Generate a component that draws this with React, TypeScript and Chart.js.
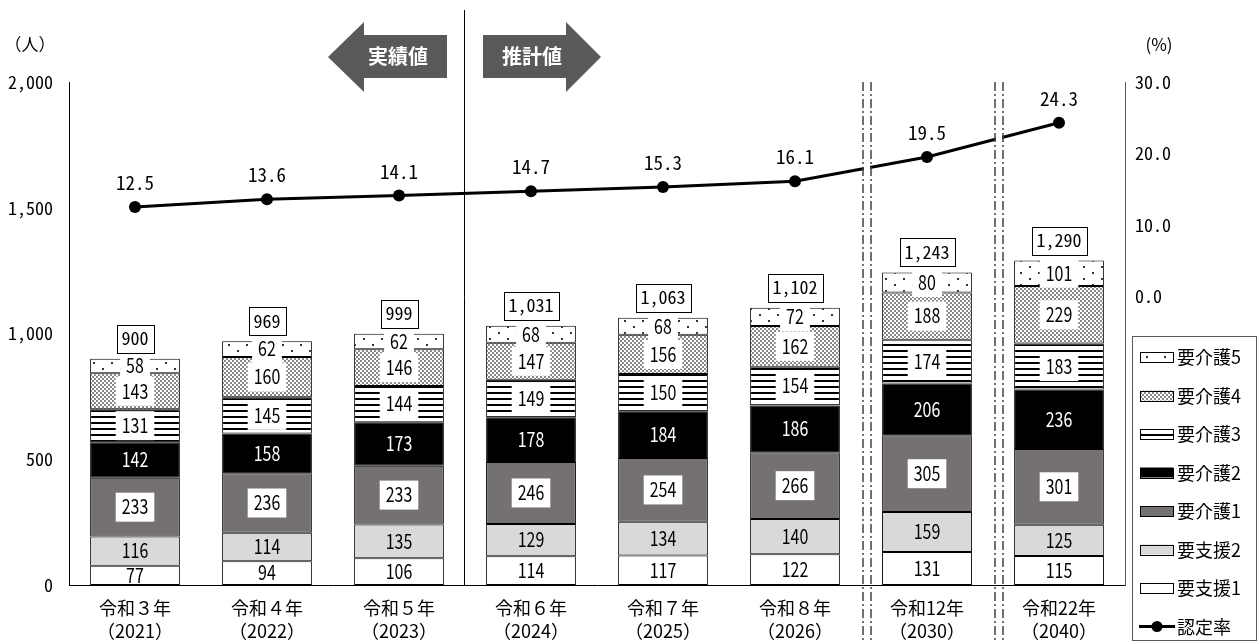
import React, { useEffect, useRef } from "react";
import { Chart, registerables } from "chart.js";
Chart.register(...registerables);

const categories = [
  ["令和３年", "（2021）"],
  ["令和４年", "（2022）"],
  ["令和５年", "（2023）"],
  ["令和６年", "（2024）"],
  ["令和７年", "（2025）"],
  ["令和８年", "（2026）"],
  ["令和12年", "（2030）"],
  ["令和22年", "（2040）"],
];
const shien1 = [77, 94, 106, 114, 117, 122, 131, 115];
const shien2 = [116, 114, 135, 129, 134, 140, 159, 125];
const kaigo1 = [233, 236, 233, 246, 254, 266, 305, 301];
const kaigo2 = [142, 158, 173, 178, 184, 186, 206, 236];
const kaigo3 = [131, 145, 144, 149, 150, 154, 174, 183];
const kaigo4 = [143, 160, 146, 147, 156, 162, 188, 229];
const kaigo5 = [58, 62, 62, 68, 68, 72, 80, 101];
const rate = [12.5, 13.6, 14.1, 14.7, 15.3, 16.1, 19.5, 24.3];
const leftTicks = [0, 500, 1000, 1500, 2000];
const rightTicks = [0, 10, 20, 30];

const JP = '"Noto Sans CJK JP", "Noto Sans", sans-serif';
const MONO = '"Noto Sans Mono CJK JP", "DejaVu Sans Mono", monospace';

function makePattern(kind: string): CanvasPattern | string {
  const c = document.createElement("canvas");
  const g = c.getContext("2d")!;
  if (kind === "sparse") {
    c.width = 18; c.height = 12;
    g.fillStyle = "#fff"; g.fillRect(0, 0, 18, 12);
    g.fillStyle = "#333";
    g.fillRect(3, 2, 2, 2);
    g.fillRect(12, 8, 2, 2);
  } else if (kind === "dense") {
    c.width = 4; c.height = 4;
    g.fillStyle = "#fff"; g.fillRect(0, 0, 4, 4);
    g.fillStyle = "#555";
    g.beginPath(); g.arc(1, 1, 0.95, 0, Math.PI * 2); g.fill();
    g.beginPath(); g.arc(3, 3, 0.95, 0, Math.PI * 2); g.fill();
  } else {
    c.width = 6; c.height = 6;
    g.fillStyle = "#fff"; g.fillRect(0, 0, 6, 6);
    g.fillStyle = "#000";
    g.fillRect(0, 2, 6, 2);
  }
  const p = g.createPattern(c, "repeat");
  return p || "#fff";
}

function drawCondensed(ctx: CanvasRenderingContext2D, text: string, x: number, y: number, sx: number) {
  ctx.save();
  ctx.translate(x, y);
  ctx.scale(sx, 1);
  ctx.textAlign = "center";
  ctx.fillText(text, 0, 0);
  ctx.restore();
}

const overlay = {
  id: "overlay",
  afterDraw(chart: any) {
    const ctx: CanvasRenderingContext2D = chart.ctx;
    const area = chart.chartArea;
    const xs = chart.scales.x;
    const ds = chart.data.datasets;
    ctx.save();

    // separators between 令和8/12 and 12/22
    const seps = [(xs.getPixelForValue(5) + xs.getPixelForValue(6)) / 2, (xs.getPixelForValue(6) + xs.getPixelForValue(7)) / 2];
    seps.forEach((m) => {
      ctx.fillStyle = "#fff";
      ctx.fillRect(m + 3, area.top, 6, area.bottom - area.top - 1);
      ctx.strokeStyle = "#444";
      ctx.lineWidth = 1.5;
      ctx.setLineDash([9, 3, 2, 3]);
      [m + 2, m + 10].forEach((lx) => {
        ctx.beginPath();
        ctx.moveTo(lx, area.top);
        ctx.lineTo(lx, chart.height);
        ctx.stroke();
      });
      ctx.setLineDash([]);
    });

    // divider 実績/推計
    const div = (xs.getPixelForValue(2) + xs.getPixelForValue(3)) / 2 - 1;
    ctx.strokeStyle = "#000";
    ctx.lineWidth = 1;
    ctx.beginPath();
    ctx.moveTo(div + 0.5, 10);
    ctx.lineTo(div + 0.5, area.bottom);
    ctx.stroke();

    // arrows
    ctx.fillStyle = "#595959";
    ctx.beginPath();
    ctx.moveTo(div - 136, 57);
    ctx.lineTo(div - 100, 22);
    ctx.lineTo(div - 100, 35);
    ctx.lineTo(div - 17, 35);
    ctx.lineTo(div - 17, 78);
    ctx.lineTo(div - 100, 78);
    ctx.lineTo(div - 100, 92);
    ctx.closePath();
    ctx.fill();
    ctx.beginPath();
    ctx.moveTo(div + 137, 57);
    ctx.lineTo(div + 102, 22);
    ctx.lineTo(div + 102, 35);
    ctx.lineTo(div + 19, 35);
    ctx.lineTo(div + 19, 78);
    ctx.lineTo(div + 102, 78);
    ctx.lineTo(div + 102, 92);
    ctx.closePath();
    ctx.fill();
    ctx.fillStyle = "#fff";
    ctx.font = "bold 20px " + JP;
    ctx.textAlign = "center";
    ctx.textBaseline = "alphabetic";
    ctx.fillText("実績値", div - 66, 64);
    ctx.fillText("推計値", div + 68, 64);

    // axis titles
    ctx.fillStyle = "#000";
    ctx.font = "17px " + JP;
    ctx.fillText("（人）", 30, 51);
    ctx.fillText("(%)", area.right + 34, 51);

    // segment labels
    const boxed = [false, false, true, false, true, true, true];
    for (let d = 0; d < 7; d++) {
      const meta = chart.getDatasetMeta(d);
      meta.data.forEach((el: any, i: number) => {
        const v = ds[d].data[i];
        const cy = (el.y + el.base) / 2;
        ctx.font = "20px " + JP;
        const w = ctx.measureText(String(v)).width * 0.8;
        if (boxed[d]) {
          ctx.fillStyle = "#fff";
          ctx.fillRect(el.x - w / 2 - 6, cy - 14.5, w + 12, 29);
        }
        ctx.fillStyle = d === 3 ? "#fff" : "#000";
        ctx.textBaseline = "alphabetic";
        drawCondensed(ctx, String(v), el.x, cy + 7.3, 0.8);
      });
    }

    // totals
    const topMeta = chart.getDatasetMeta(6);
    topMeta.data.forEach((el: any, i: number) => {
      let t = 0;
      for (let d = 0; d < 7; d++) t += ds[d].data[i];
      const s = t.toLocaleString("en-US");
      ctx.font = "18px " + MONO;
      const w = ctx.measureText(s).width;
      const bx = el.x - w / 2 - 5;
      const by = el.y - 6 - 28;
      ctx.fillStyle = "#fff";
      ctx.fillRect(bx, by, w + 10, 28);
      ctx.strokeStyle = "#000";
      ctx.lineWidth = 1;
      ctx.strokeRect(Math.round(bx) + 0.5, Math.round(by) + 0.5, Math.round(w + 10), 28);
      ctx.fillStyle = "#000";
      ctx.textAlign = "center";
      ctx.fillText(s, el.x, by + 20.5);
    });

    // rate labels
    const lineMeta = chart.getDatasetMeta(7);
    lineMeta.data.forEach((el: any, i: number) => {
      ctx.font = "19px " + MONO;
      ctx.fillStyle = "#000";
      ctx.textAlign = "center";
      ctx.fillText(rate[i].toFixed(1), el.x, el.y - 17);
    });

    // legend
    const lx = area.right + 7;
    const ly = 336;
    ctx.fillStyle = "#fff";
    ctx.fillRect(lx, ly, 124, chart.height - ly - 2);
    ctx.strokeStyle = "#595959";
    ctx.lineWidth = 1;
    ctx.strokeRect(lx + 0.5, ly + 0.5, 124, chart.height - ly - 3);
    const order = [6, 5, 4, 3, 2, 1, 0, 7];
    order.forEach((d, k) => {
      const y = 357 + k * 38.5;
      const dset: any = ds[d];
      if (d === 7) {
        ctx.strokeStyle = "#000";
        ctx.lineWidth = 3;
        ctx.beginPath();
        ctx.moveTo(lx + 7, y);
        ctx.lineTo(lx + 43, y);
        ctx.stroke();
        ctx.fillStyle = "#000";
        ctx.beginPath();
        ctx.arc(lx + 25, y, 5.5, 0, Math.PI * 2);
        ctx.fill();
      } else {
        ctx.fillStyle = dset.backgroundColor;
        ctx.fillRect(lx + 8, y - 5, 33, 10);
        ctx.strokeStyle = "#000";
        ctx.lineWidth = 1;
        ctx.strokeRect(lx + 8.5, Math.round(y - 5) + 0.5, 33, 10);
      }
      ctx.fillStyle = "#000";
      ctx.font = "18px " + JP;
      ctx.textAlign = "left";
      ctx.textBaseline = "alphabetic";
      ctx.fillText(dset.label, lx + 45, y + 7);
    });

    ctx.restore();
  },
};

export default function App() {
  const ref = useRef<HTMLCanvasElement>(null);
  useEffect(() => {
    document.body.style.margin = "0";
    const canvas = ref.current!;
    const barBase = { type: "bar", stack: "s", yAxisID: "y", borderColor: "#000", borderWidth: 1, borderSkipped: false, barPercentage: 0.68, categoryPercentage: 1 };
    const chart = new Chart(canvas, {
      type: "bar",
      data: {
        labels: categories,
        datasets: [
          { ...barBase, label: "要支援1", data: shien1, backgroundColor: "#ffffff", order: 2 },
          { ...barBase, label: "要支援2", data: shien2, backgroundColor: "#d9d9d9", order: 2 },
          { ...barBase, label: "要介護1", data: kaigo1, backgroundColor: "#767171", order: 2 },
          { ...barBase, label: "要介護2", data: kaigo2, backgroundColor: "#000000", order: 2 },
          { ...barBase, label: "要介護3", data: kaigo3, backgroundColor: makePattern("stripe"), order: 2 },
          { ...barBase, label: "要介護4", data: kaigo4, backgroundColor: makePattern("dense"), order: 2 },
          { ...barBase, label: "要介護5", data: kaigo5, backgroundColor: makePattern("sparse"), order: 2 },
          {
            type: "line", label: "認定率", data: rate, yAxisID: "y1", borderColor: "#000", backgroundColor: "#000",
            borderWidth: 3, pointRadius: 6, pointBackgroundColor: "#000", pointBorderWidth: 0, tension: 0, order: 1,
          },
        ] as any,
      },
      options: {
        responsive: false,
        animation: false,
        devicePixelRatio: 1,
        layout: { padding: { top: 82, left: 0, right: 0, bottom: 0 } },
        plugins: { legend: { display: false }, tooltip: { enabled: false } },
        scales: {
          x: {
            stacked: true,
            grid: { display: false, drawTicks: false },
            border: { color: "#000", width: 1 },
            ticks: { color: "#000", font: { family: JP, size: 18, lineHeight: 1.3 }, padding: 11, maxRotation: 0, autoSkip: false },
            afterFit: (s: any) => { s.height = 58; },
          },
          y: {
            stacked: true,
            min: 0,
            max: 2000,
            grid: { display: false, drawTicks: false },
            border: { color: "#000", width: 1 },
            afterBuildTicks: (s: any) => { s.ticks = leftTicks.map((v) => ({ value: v })); },
            ticks: { color: "#000", font: { family: MONO, size: 18 }, padding: 16, callback: (v: any) => Number(v).toLocaleString("en-US") },
            afterFit: (s: any) => { s.width = 69; },
          },
          y1: {
            position: "right",
            min: -40.4,
            max: 30,
            grid: { display: false, drawTicks: false },
            border: { color: "#595959", width: 1 },
            afterBuildTicks: (s: any) => { s.ticks = rightTicks.map((v) => ({ value: v })); },
            ticks: { color: "#000", font: { family: MONO, size: 18 }, padding: 10, callback: (v: any) => Number(v).toFixed(1) },
            afterFit: (s: any) => { s.width = 133; },
          },
        },
      } as any,
      plugins: [overlay],
    });
    return () => chart.destroy();
  }, []);
  return (
    <div style={{ width: 1258, height: 643 }}>
      <canvas ref={ref} width={1258} height={643} style={{ width: 1258, height: 643, display: "block" }} />
    </div>
  );
}
